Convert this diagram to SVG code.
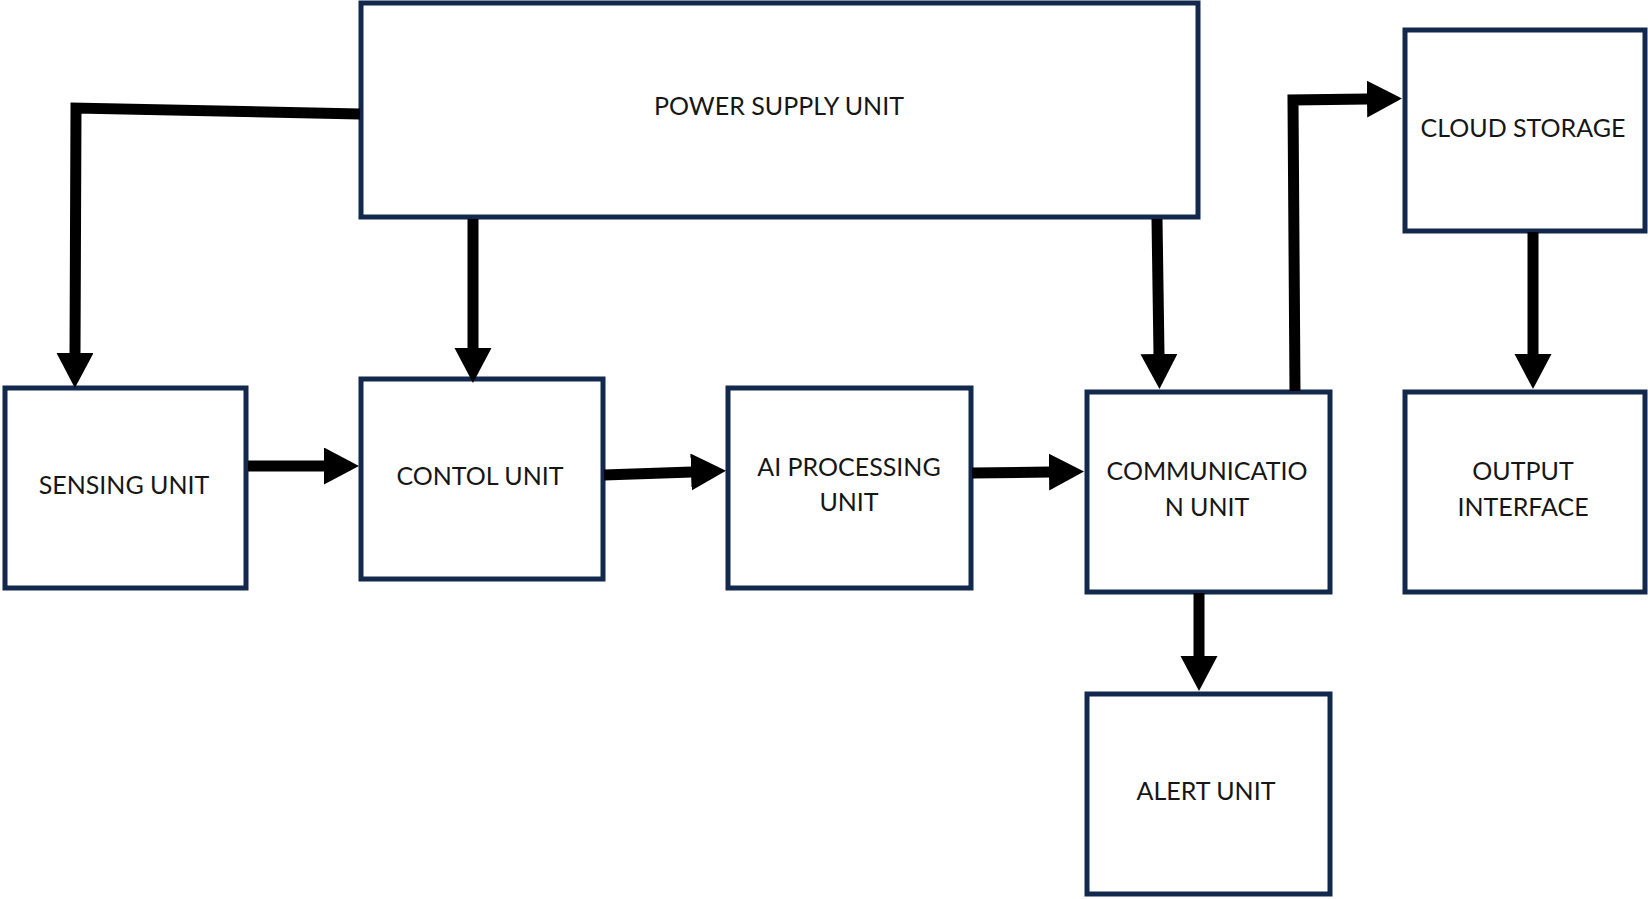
<svg xmlns="http://www.w3.org/2000/svg" width="1648" height="899" viewBox="0 0 1648 899">
<style>
.box{fill:#fff;stroke:#13284d;stroke-width:5}
.lbl{font-family:Lato,"Liberation Sans",sans-serif;font-size:25px;fill:#161616;text-anchor:middle;dominant-baseline:central}
.con{fill:none;stroke:#000;stroke-width:11;stroke-linejoin:miter;marker-end:url(#ah)}
</style>
<defs>
<marker id="ah" markerUnits="userSpaceOnUse" markerWidth="36" markerHeight="38" refX="1" refY="18.5" orient="auto" viewBox="0 0 36 38">
<path d="M0,0 L35,18.5 L0,37 z" fill="#000"/>
</marker>
</defs>
<rect width="1648" height="899" fill="#fff"/>
<g id="power"><rect class="box" x="361" y="3" width="837" height="214"/><text class="lbl" x="779" y="105">POWER SUPPLY UNIT</text></g>
<g id="sensing"><rect class="box" x="5" y="388" width="241" height="200"/><text class="lbl" x="124" y="484">SENSING UNIT</text></g>
<g id="control"><rect class="box" x="361" y="379" width="242" height="200"/><text class="lbl" x="480" y="475">CONTOL UNIT</text></g>
<g id="ai"><rect class="box" x="728" y="388" width="243" height="200"/><text class="lbl" x="849" y="466">AI PROCESSING</text><text class="lbl" x="849" y="501">UNIT</text></g>
<g id="comm"><rect class="box" x="1087" y="392" width="243" height="200"/><text class="lbl" x="1207" y="470">COMMUNICATIO</text><text class="lbl" x="1207" y="506">N UNIT</text></g>
<g id="cloud"><rect class="box" x="1405" y="30" width="240" height="201"/><text class="lbl" x="1523" y="127">CLOUD STORAGE</text></g>
<g id="output"><rect class="box" x="1405" y="392" width="240" height="200"/><text class="lbl" x="1523" y="470">OUTPUT</text><text class="lbl" x="1523" y="506">INTERFACE</text></g>
<g id="alert"><rect class="box" x="1087" y="694" width="243" height="200"/><text class="lbl" x="1206" y="790">ALERT UNIT</text></g>
<g id="connectors">
<path class="con" d="M360,114 L76,108 L75,354"/>
<path class="con" d="M473,219 L473,349"/>
<path class="con" d="M1157,219 L1159,355"/>
<path class="con" d="M248,466 L325,466"/>
<path class="con" d="M604,475 L692,472"/>
<path class="con" d="M972,473 L1050,472"/>
<path class="con" d="M1295,391 L1293,100 L1368,99"/>
<path class="con" d="M1533,232 L1533,355"/>
<path class="con" d="M1199,593 L1199,657"/>
</g>
</svg>
